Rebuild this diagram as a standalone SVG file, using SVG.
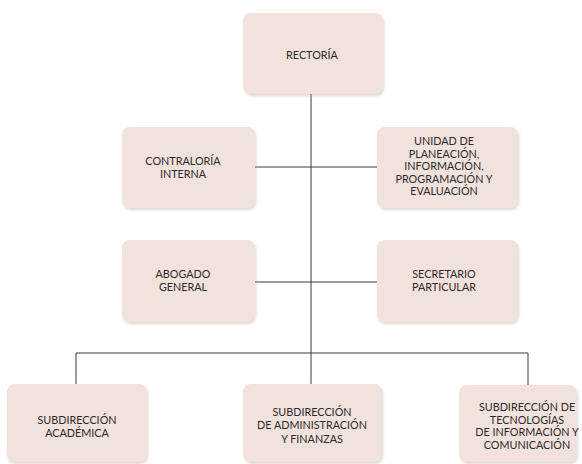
<svg xmlns="http://www.w3.org/2000/svg" width="582" height="464" viewBox="0 0 582 464">
<defs>
<filter id="sh" x="-10%" y="-10%" width="125%" height="130%">
<feDropShadow dx="1" dy="2" stdDeviation="1.5" flood-color="#9a8a86" flood-opacity="0.35"/>
</filter>
</defs>
<style>
.box{fill:#f2e2dd;filter:url(#sh);}
.t{font-family:Lato,"Open Sans",sans-serif;font-size:10.8px;fill:#2e2928;text-anchor:middle;}
.c{stroke:#3a3a3a;stroke-width:1;fill:none;}
</style>
<rect width="582" height="464" fill="#ffffff"/>
<g id="connectors">
<path class="c" d="M311 94 V353"/>
<path class="c" d="M255 167 H377"/>
<path class="c" d="M255 282 H377"/>
<path class="c" d="M76 384 V353 H528 V385"/>
<path class="c" d="M311 353 V384"/>
</g>
<g id="rectoria">
<rect class="box" x="243" y="13" width="140" height="81" rx="8"/>
<text class="t" x="312" y="59">RECTORÍA</text>
</g>
<g id="contraloria">
<rect class="box" x="122" y="127" width="133" height="81" rx="8"/>
<text class="t" x="183" y="165">CONTRALORÍA</text>
<text class="t" x="183" y="177.5">INTERNA</text>
</g>
<g id="unidad">
<rect class="box" x="377" y="127" width="141" height="81" rx="8"/>
<text class="t" x="444" y="145">UNIDAD DE</text>
<text class="t" x="444" y="157.5">PLANEACIÓN,</text>
<text class="t" x="444" y="170">INFORMACIÓN,</text>
<text class="t" x="444" y="182.5">PROGRAMACIÓN Y</text>
<text class="t" x="444" y="195">EVALUACIÓN</text>
</g>
<g id="abogado">
<rect class="box" x="122" y="240" width="133" height="82" rx="8"/>
<text class="t" x="183" y="277.5">ABOGADO</text>
<text class="t" x="183" y="290.5">GENERAL</text>
</g>
<g id="secretario">
<rect class="box" x="377" y="240" width="141" height="82" rx="8"/>
<text class="t" x="444" y="278">SECRETARIO</text>
<text class="t" x="444" y="291">PARTICULAR</text>
</g>
<g id="academica">
<rect class="box" x="7" y="384" width="140" height="78" rx="8"/>
<text class="t" x="77" y="423.5">SUBDIRECCIÓN</text>
<text class="t" x="77" y="436.5">ACADÉMICA</text>
</g>
<g id="administracion">
<rect class="box" x="243" y="384" width="139" height="78" rx="8"/>
<text class="t" x="312" y="416">SUBDIRECCIÓN</text>
<text class="t" x="312" y="429">DE ADMINISTRACIÓN</text>
<text class="t" x="312" y="442.5">Y FINANZAS</text>
</g>
<g id="tecnologias">
<rect class="box" x="459" y="385" width="118" height="77" rx="8"/>
<text class="t" x="527" y="411">SUBDIRECCIÓN DE</text>
<text class="t" x="527" y="423.5">TECNOLOGÍAS</text>
<text class="t" x="527" y="436">DE INFORMACIÓN Y</text>
<text class="t" x="527" y="449">COMUNICACIÓN</text>
</g>
</svg>
